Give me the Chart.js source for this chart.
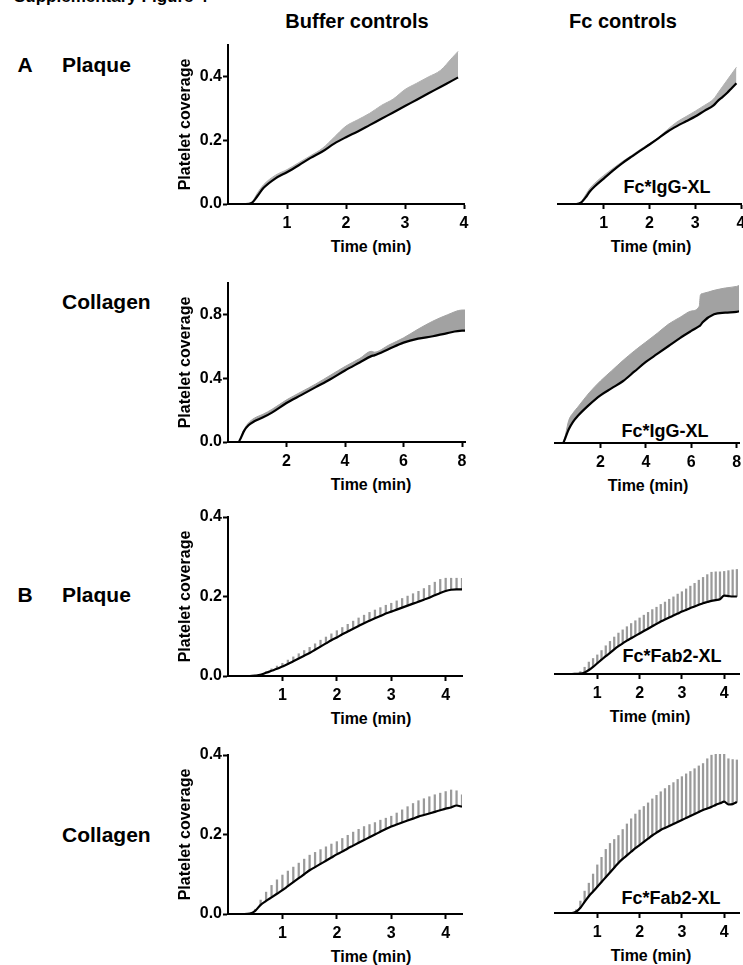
<!DOCTYPE html>
<html><head><meta charset="utf-8">
<script src="https://cdn.jsdelivr.net/npm/chart.js@4.4.1/dist/chart.umd.min.js"></script>
<style>
html,body{margin:0;padding:0;background:#fff;width:743px;height:965px;overflow:hidden;position:relative;font-family:'Liberation Sans',Arial,sans-serif;color:#000}
.t{position:absolute;white-space:nowrap;font-weight:bold;line-height:1}
.c{transform:translate(-50%,-50%)}
.l{transform:translate(0,-50%)}
.xt{font-size:16px}
canvas{position:absolute}
</style></head><body>
<div class="t" style="left:14px;top:-13px;font-size:17px;line-height:20px">Supplementary Figure 4</div>
<div class="t c" style="left:357px;top:21px;font-size:20px">Buffer controls</div>
<div class="t c" style="left:623px;top:21px;font-size:20px">Fc controls</div>
<div class="t c" style="left:25px;top:64px;font-size:21px">A</div>
<div class="t l" style="left:62px;top:64px;font-size:21px">Plaque</div>
<div class="t l" style="left:62px;top:301px;font-size:21px">Collagen</div>
<div class="t c" style="left:25px;top:594px;font-size:21px">B</div>
<div class="t l" style="left:62px;top:594px;font-size:21px">Plaque</div>
<div class="t l" style="left:62px;top:834px;font-size:21px">Collagen</div>
<div class="t c" style="left:667px;top:187px;font-size:18px">Fc*IgG-XL</div>
<div class="t c" style="left:665px;top:431px;font-size:18px">Fc*IgG-XL</div>
<div class="t c" style="left:672px;top:656px;font-size:18px">Fc*Fab2-XL</div>
<div class="t c" style="left:671px;top:898px;font-size:18px">Fc*Fab2-XL</div>
<div class="t c xt" style="left:371px;top:247px">Time (min)</div>
<div class="t c xt" style="left:651px;top:247px">Time (min)</div>
<div class="t c xt" style="left:371px;top:485px">Time (min)</div>
<div class="t c xt" style="left:648px;top:486px">Time (min)</div>
<div class="t c xt" style="left:371px;top:719px">Time (min)</div>
<div class="t c xt" style="left:650px;top:717px">Time (min)</div>
<div class="t c xt" style="left:371px;top:957px">Time (min)</div>
<div class="t c xt" style="left:651px;top:956px">Time (min)</div>
<script>
// ---- tick labels ----
const xTicks4 = [1, 2, 3, 4];
const xTicks8 = [2, 4, 6, 8];
const yTicksPlaqueA = [0, 0.2, 0.4];
const yTicksCollagenA = [0, 0.4, 0.8];
const yTicksB = [0, 0.2, 0.4];

// ---- A: Plaque, Buffer controls ----
const timeA1  = [0, 0.3, 0.4, 0.5, 0.6, 0.8, 1.0, 1.2, 1.4, 1.6, 1.8, 2.0, 2.2, 2.4, 2.6, 2.8, 3.0, 3.2, 3.4, 3.6, 3.8, 3.9];
const meanA1  = [0, 0, 0.003, 0.025, 0.05, 0.08, 0.10, 0.122, 0.145, 0.165, 0.19, 0.21, 0.228, 0.248, 0.268, 0.288, 0.308, 0.328, 0.348, 0.368, 0.388, 0.398];
const upperA1 = [0, 0, 0.005, 0.035, 0.06, 0.09, 0.108, 0.13, 0.152, 0.175, 0.21, 0.245, 0.265, 0.285, 0.31, 0.33, 0.36, 0.38, 0.40, 0.42, 0.46, 0.48];

// ---- A: Plaque, Fc controls ----
const timeA2  = [0, 0.4, 0.5, 0.6, 0.7, 0.8, 1.0, 1.2, 1.4, 1.6, 1.8, 2.0, 2.2, 2.4, 2.6, 2.8, 3.0, 3.2, 3.4, 3.5, 3.6, 3.7, 3.8, 3.9];
const meanA2  = [0, 0, 0.004, 0.02, 0.04, 0.055, 0.08, 0.105, 0.128, 0.148, 0.168, 0.187, 0.207, 0.228, 0.245, 0.26, 0.275, 0.293, 0.31, 0.325, 0.337, 0.35, 0.365, 0.38];
const upperA2 = [0, 0, 0.006, 0.028, 0.05, 0.065, 0.09, 0.112, 0.133, 0.152, 0.172, 0.19, 0.21, 0.235, 0.258, 0.275, 0.292, 0.31, 0.33, 0.35, 0.37, 0.39, 0.41, 0.43];

// ---- A: Collagen, Buffer controls ----
const timeA3  = [0, 0.35, 0.45, 0.55, 0.7, 0.9, 1.2, 1.5, 2.0, 2.5, 3.0, 3.5, 4.0, 4.5, 4.9, 5.0, 5.5, 6.0, 6.5, 7.0, 7.5, 8.0, 8.1];
const meanA3  = [0, 0, 0.03, 0.07, 0.105, 0.13, 0.155, 0.185, 0.245, 0.295, 0.345, 0.395, 0.45, 0.5, 0.54, 0.545, 0.585, 0.625, 0.65, 0.665, 0.685, 0.70, 0.70];
const upperA3 = [0, 0, 0.035, 0.08, 0.12, 0.15, 0.175, 0.205, 0.265, 0.315, 0.365, 0.42, 0.475, 0.525, 0.57, 0.565, 0.61, 0.655, 0.71, 0.76, 0.80, 0.83, 0.83];

// ---- A: Collagen, Fc controls ----
const timeA4  = [0, 0.35, 0.45, 0.6, 0.8, 1.0, 1.5, 2.0, 2.5, 3.0, 3.5, 4.0, 4.5, 5.0, 5.5, 6.0, 6.35, 6.4, 6.5, 7.0, 7.5, 8.0, 8.1];
const meanA4  = [0, 0, 0.03, 0.085, 0.135, 0.17, 0.24, 0.30, 0.345, 0.39, 0.45, 0.51, 0.56, 0.61, 0.66, 0.705, 0.735, 0.74, 0.76, 0.81, 0.82, 0.825, 0.828];
const upperA4 = [0, 0, 0.045, 0.14, 0.19, 0.225, 0.315, 0.39, 0.455, 0.52, 0.58, 0.635, 0.69, 0.748, 0.79, 0.83, 0.86, 0.93, 0.94, 0.96, 0.975, 0.985, 0.99];

// ---- B: shared time points ----
const timeB = [0, 0.1, 0.2, 0.3, 0.4, 0.5, 0.6, 0.7, 0.8, 0.9, 1.0, 1.1, 1.2, 1.3, 1.4, 1.5, 1.6, 1.7, 1.8, 1.9, 2.0, 2.1, 2.2, 2.3, 2.4, 2.5, 2.6, 2.7, 2.8, 2.9, 3.0, 3.1, 3.2, 3.3, 3.4, 3.5, 3.6, 3.7, 3.8, 3.9, 4.0, 4.1, 4.2, 4.3];

// ---- B: Plaque, Buffer controls ----
const meanB1  = [0, 0, 0, 0, 0, 0.001, 0.003, 0.008, 0.013, 0.018, 0.024, 0.030, 0.037, 0.044, 0.051, 0.058, 0.066, 0.074, 0.082, 0.090, 0.097, 0.105, 0.112, 0.119, 0.126, 0.133, 0.139, 0.145, 0.151, 0.157, 0.162, 0.167, 0.172, 0.177, 0.182, 0.187, 0.192, 0.197, 0.203, 0.209, 0.214, 0.217, 0.218, 0.218];
const upperB1 = [0, 0, 0, 0, 0, 0.002, 0.005, 0.011, 0.018, 0.025, 0.032, 0.040, 0.048, 0.056, 0.064, 0.072, 0.081, 0.090, 0.098, 0.106, 0.114, 0.122, 0.130, 0.138, 0.146, 0.153, 0.160, 0.166, 0.172, 0.178, 0.183, 0.189, 0.195, 0.201, 0.207, 0.213, 0.220, 0.228, 0.236, 0.243, 0.246, 0.246, 0.246, 0.246];

// ---- B: Plaque, Fc controls ----
const meanB2  = [0, 0, 0, 0, 0, 0.0005, 0.001, 0.004, 0.010, 0.018, 0.027, 0.036, 0.045, 0.053, 0.062, 0.070, 0.077, 0.084, 0.090, 0.096, 0.102, 0.108, 0.114, 0.120, 0.126, 0.132, 0.137, 0.142, 0.147, 0.152, 0.157, 0.161, 0.166, 0.170, 0.174, 0.178, 0.181, 0.184, 0.186, 0.188, 0.197, 0.196, 0.195, 0.195];
const upperB2 = [0, 0, 0, 0, 0, 0.001, 0.006, 0.017, 0.030, 0.039, 0.048, 0.059, 0.071, 0.082, 0.093, 0.103, 0.111, 0.119, 0.127, 0.134, 0.141, 0.148, 0.155, 0.162, 0.168, 0.175, 0.181, 0.188, 0.194, 0.201, 0.207, 0.214, 0.221, 0.228, 0.236, 0.243, 0.250, 0.256, 0.257, 0.257, 0.258, 0.260, 0.262, 0.263];

// ---- B: Collagen, Buffer controls ----
const meanB3  = [0, 0, 0, 0, 0.001, 0.008, 0.023, 0.033, 0.042, 0.051, 0.060, 0.070, 0.080, 0.090, 0.100, 0.110, 0.118, 0.126, 0.134, 0.142, 0.150, 0.157, 0.165, 0.172, 0.179, 0.186, 0.193, 0.200, 0.207, 0.214, 0.220, 0.225, 0.230, 0.235, 0.240, 0.245, 0.249, 0.253, 0.257, 0.261, 0.265, 0.268, 0.273, 0.270];
const upperB3 = [0, 0, 0, 0, 0.001, 0.012, 0.035, 0.055, 0.072, 0.086, 0.098, 0.108, 0.118, 0.128, 0.138, 0.148, 0.155, 0.162, 0.169, 0.176, 0.182, 0.190, 0.198, 0.206, 0.213, 0.220, 0.225, 0.230, 0.236, 0.241, 0.246, 0.254, 0.262, 0.270, 0.278, 0.285, 0.290, 0.295, 0.300, 0.304, 0.308, 0.312, 0.310, 0.300];

// ---- B: Collagen, Fc controls ----
const meanB4  = [0, 0, 0, 0, 0, 0.003, 0.013, 0.028, 0.042, 0.054, 0.066, 0.078, 0.090, 0.102, 0.114, 0.126, 0.136, 0.145, 0.154, 0.163, 0.171, 0.179, 0.187, 0.195, 0.202, 0.209, 0.214, 0.219, 0.224, 0.229, 0.234, 0.239, 0.244, 0.249, 0.254, 0.259, 0.263, 0.267, 0.272, 0.276, 0.280, 0.273, 0.274, 0.279];
const upperB4 = [0, 0, 0, 0, 0, 0.008, 0.030, 0.055, 0.075, 0.098, 0.121, 0.140, 0.160, 0.175, 0.185, 0.195, 0.210, 0.224, 0.237, 0.249, 0.259, 0.268, 0.277, 0.287, 0.296, 0.305, 0.313, 0.321, 0.328, 0.336, 0.343, 0.350, 0.356, 0.363, 0.370, 0.376, 0.388, 0.397, 0.400, 0.400, 0.400, 0.388, 0.386, 0.385];

const FAM = "'Liberation Sans', Arial, sans-serif";
const font = (s) => ({ family: FAM, size: s, weight: 'bold' });

function panel(p) {
  const plotW = p.R - p.L, plotH = p.B - p.T;
  const padL = 6, padR = 14, padT = 12, axW = 52, axH = 53;
  const w = padL + (p.showY ? axW : 0) + plotW + padR;
  const h = padT + plotH + axH;
  const left = p.L - padL - (p.showY ? axW : 0);
  const top = p.T - padT;
  const cv = document.createElement('canvas');
  cv.width = w; cv.height = h;
  cv.style.left = left + 'px'; cv.style.top = top + 'px';
  cv.style.width = w + 'px'; cv.style.height = h + 'px';
  document.body.appendChild(cv);

  const datasets = [{
    type: 'line', order: 0,
    data: p.time.map((t, i) => ({ x: t, y: p.mean[i] })),
    borderColor: '#000', borderWidth: 2.2, pointRadius: 0, fill: false,
    cubicInterpolationMode: 'monotone'
  }];
  if (p.band) {
    datasets.push({
      type: 'line', order: 1,
      data: p.time.map((t, i) => ({ x: t, y: p.upper[i] })),
      borderColor: p.grey, borderWidth: 1, backgroundColor: p.grey,
      pointRadius: 0, fill: 0, cubicInterpolationMode: 'monotone'
    });
  } else {
    datasets.push({
      type: 'bar', order: 1,
      data: p.time.map((t, i) => ({ x: t, y: [p.mean[i], p.upper[i]] })),
      backgroundColor: p.grey, borderWidth: 0, barThickness: 1.6
    });
  }

  new Chart(cv, {
    type: 'line',
    data: { datasets },
    options: {
      responsive: false, animation: false, devicePixelRatio: 1,
      layout: { padding: { left: padL, right: padR, top: padT, bottom: 0 } },
      plugins: { legend: { display: false }, tooltip: { enabled: false } },
      scales: {
        x: {
          type: 'linear', min: 0, max: p.xMax, offset: false,
          afterBuildTicks: (s) => { s.ticks = p.xTicks.map(v => ({ value: v })); },
          afterFit: (s) => { s.height = axH; },
          grid: { display: true, drawOnChartArea: false, drawTicks: true, tickLength: 5, tickWidth: 2, tickColor: '#000', offset: false },
          border: { display: true, color: '#000', width: 2 },
          ticks: { color: '#000', font: font(16), padding: 5, maxRotation: 0, autoSkip: false, callback: (v) => String(v) },
          title: { display: false }
        },
        y: {
          type: 'linear', min: 0, max: p.yMax, display: p.showY,
          afterBuildTicks: (s) => { s.ticks = p.yTicks.map(v => ({ value: v })); },
          afterFit: (s) => { s.width = axW; },
          grid: { display: true, drawOnChartArea: false, drawTicks: true, tickLength: 5, tickWidth: 2, tickColor: '#000' },
          border: { display: true, color: '#000', width: 2 },
          ticks: { color: '#000', font: font(16), padding: 1, callback: (v) => v.toFixed(1) },
          title: { display: true, text: 'Platelet coverage', color: '#000', font: font(16), padding: 0 }
        }
      }
    }
  });
}

panel({ L: 228, R: 464, T: 45, B: 204, xMax: 4, yMax: 0.5, xTicks: xTicks4, yTicks: yTicksPlaqueA, showY: true, time: timeA1, mean: meanA1, upper: upperA1, band: true, grey: '#b0b0b0' });
panel({ L: 506, R: 741, T: 45, B: 204, xMax: 4, yMax: 0.5, xTicks: xTicks4, yTicks: yTicksPlaqueA, showY: false, time: timeA2, mean: meanA2, upper: upperA2, band: true, grey: '#b0b0b0' });
panel({ L: 228, R: 465, T: 283, B: 442, xMax: 8.1, yMax: 1.0, xTicks: xTicks8, yTicks: yTicksCollagenA, showY: true, time: timeA3, mean: meanA3, upper: upperA3, band: true, grey: '#a2a2a2' });
panel({ L: 503, R: 739, T: 284, B: 443, xMax: 8.1, yMax: 1.0, xTicks: xTicks8, yTicks: yTicksCollagenA, showY: false, time: timeA4, mean: meanA4, upper: upperA4, band: true, grey: '#a2a2a2' });
panel({ L: 228, R: 462, T: 517, B: 676, xMax: 4.3, yMax: 0.4, xTicks: xTicks4, yTicks: yTicksB, showY: true, time: timeB, mean: meanB1, upper: upperB1, band: false, grey: '#9a9a9a' });
panel({ L: 503, R: 739, T: 515, B: 674, xMax: 4.35, yMax: 0.4, xTicks: xTicks4, yTicks: yTicksB, showY: false, time: timeB, mean: meanB2, upper: upperB2, band: false, grey: '#9a9a9a' });
panel({ L: 228, R: 462, T: 755, B: 914, xMax: 4.3, yMax: 0.4, xTicks: xTicks4, yTicks: yTicksB, showY: true, time: timeB, mean: meanB3, upper: upperB3, band: false, grey: '#9a9a9a' });
panel({ L: 503, R: 739, T: 754, B: 913, xMax: 4.35, yMax: 0.4, xTicks: xTicks4, yTicks: yTicksB, showY: false, time: timeB, mean: meanB4, upper: upperB4, band: false, grey: '#9a9a9a' });
</script>
</body></html>
